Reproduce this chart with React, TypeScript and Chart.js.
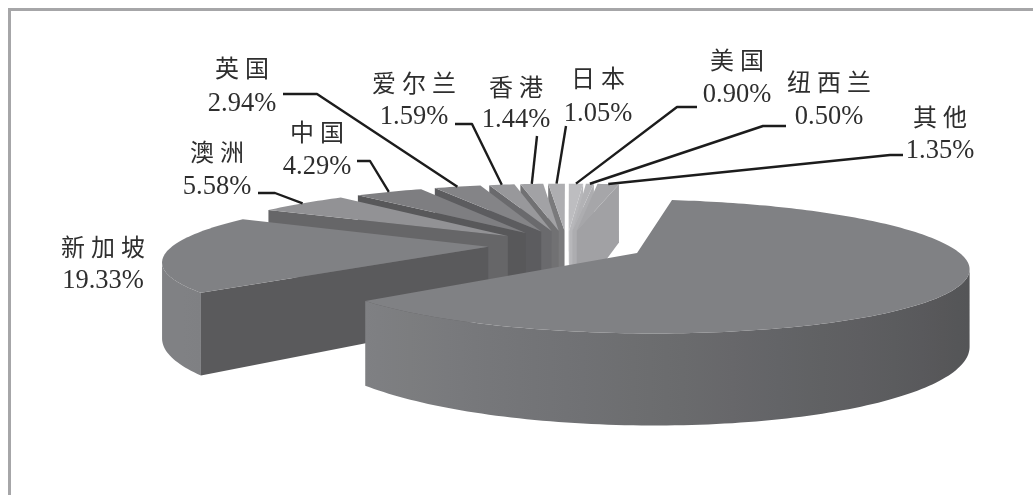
import React, { useEffect, useRef } from "react";
import { Chart, PieController, ArcElement } from "chart.js";

// ---- data ----
const categories = ["", "新加坡", "澳洲", "中国", "英国", "爱尔兰", "香港", "日本", "美国", "纽西兰", "其他"];
const shares = [61.03, 19.33, 5.58, 4.29, 2.94, 1.59, 1.44, 1.05, 0.9, 0.5, 1.35];
const percentLabels = ["", "19.33%", "5.58%", "4.29%", "2.94%", "1.59%", "1.44%", "1.05%", "0.90%", "0.50%", "1.35%"];
const topColors = ["#808184", "#808184", "#929295", "#7e7e81", "#848487", "#98989b", "#a2a2a5", "#aeaeb1", "#bdbdc0", "#b2b2b5", "#a6a6a9"];

// ---- label layout: [centre x, name y, percent y] and leader start/elbow ----
const labelPlaces: (number[] | null)[] = [
  null, [103, 247, 281], [217, 152, 187], [317, 132, 167], [242, 68, 104], [414, 83, 117],
  [516, 87, 120], [598, 78, 114], [737, 60, 95], [829, 82, 117], [940, 117, 151],
];
const leaderStarts: (number[] | null)[] = [
  null, null, [258, 193, 275, 193], [357, 161, 370, 161], [283, 94, 317, 94], [455, 124, 472, 124],
  [537, 136], [566, 126], [697, 107, 677, 107], [786, 126, 763, 126], [903, 155, 890, 155],
];

// ---- 3D view of the pie plane ----
const VIEW = { cx: 567, f: 315, p: 0.194, horizon: -70.7, h: 316, depth: 72, explode: 0.25 };

const project = (U: number, V: number, drop = 0) => {
  const w = 1 - VIEW.p * V;
  return { x: VIEW.cx + (VIEW.f * U) / w, y: VIEW.horizon + (VIEW.h + drop * VIEW.depth) / w };
};

const shade = (hex: string, f: number) => {
  const n = parseInt(hex.slice(1), 16);
  const c = (v: number) => Math.round(Math.min(255, v * f));
  return `rgb(${c((n >> 16) & 255)},${c((n >> 8) & 255)},${c(n & 255)})`;
};

type Pt = { x: number; y: number };

class Pie3DController extends PieController {
  static id = "pie3d";

  // The library still lays out the arcs; only their painting is projected.
  draw() {
    const ctx: CanvasRenderingContext2D = this.chart.ctx;
    const arcs: any[] = this._cachedMeta.data as any[];
    const slices = arcs.map((arc, i) => {
      const mid = (arc.startAngle + arc.endAngle) / 2;
      const ox = Math.cos(mid) * VIEW.explode;
      const oy = Math.sin(mid) * VIEW.explode;
      return { arc, i, ox, oy, start: arc.startAngle, end: arc.endAngle };
    });
    slices.sort((a, b) => a.oy - b.oy);

    const quad = (a: Pt, b: Pt, c: Pt, d: Pt, color: string) => {
      ctx.fillStyle = color;
      ctx.beginPath();
      ctx.moveTo(a.x, a.y);
      ctx.lineTo(b.x, b.y);
      ctx.lineTo(c.x, c.y);
      ctx.lineTo(d.x, d.y);
      ctx.closePath();
      ctx.fill();
    };

    for (const s of slices) {
      const color: string = s.arc.options.backgroundColor;
      const steps = Math.max(2, Math.ceil((s.end - s.start) / (Math.PI / 150)));
      const rim: { u: number; v: number }[] = [];
      for (let k = 0; k <= steps; k++) {
        const a = s.start + ((s.end - s.start) * k) / steps;
        rim.push({ u: Math.cos(a), v: Math.sin(a) });
      }
      const at = (u: number, v: number, drop = 0) => project(s.ox + u, s.oy + v, drop);
      const apex = at(0, 0);
      const apexLow = at(0, 0, 1);

      // radial wall on the start side
      const t0 = at(rim[0].u, rim[0].v);
      if (t0.x < apex.x) quad(apex, t0, at(rim[0].u, rim[0].v, 1), apexLow, shade(color, 0.7));
      // radial wall on the end side
      const last = rim[rim.length - 1];
      const t1 = at(last.u, last.v);
      if (apex.x < t1.x) quad(t1, apex, apexLow, at(last.u, last.v, 1), shade(color, 0.97));

      // outer wall: the part of the rim that faces the viewer, one horizontal gradient
      const run = rim.filter((r, k) => {
        const p = at(r.u, r.v);
        const prev = k > 0 ? at(rim[k - 1].u, rim[k - 1].v) : null;
        const next = k < steps ? at(rim[k + 1].u, rim[k + 1].v) : null;
        return (next && next.x < p.x) || (prev && p.x < prev.x);
      });
      if (run.length > 1) {
        const xs = run.map((r) => at(r.u, r.v).x);
        const maxX = Math.max(...xs);
        const minX = Math.min(...xs);
        const grad = ctx.createLinearGradient(minX, 0, maxX, 0);
        run.forEach((r, k) => {
          if (k % 6 !== 0 && k !== run.length - 1) return;
          const f = Math.max(0.66, Math.min(1, 0.84 - 0.2 * r.u));
          grad.addColorStop(Math.min(1, Math.max(0, (xs[k] - minX) / (maxX - minX || 1))), shade(color, f));
        });
        ctx.fillStyle = grad;
        ctx.beginPath();
        run.forEach((r, k) => {
          const p = at(r.u, r.v);
          if (k === 0) ctx.moveTo(p.x, p.y);
          else ctx.lineTo(p.x, p.y);
        });
        for (let k = run.length - 1; k >= 0; k--) {
          const p = at(run[k].u, run[k].v, 1);
          ctx.lineTo(p.x, p.y);
        }
        ctx.closePath();
        ctx.fill();
      }

      // top face
      ctx.fillStyle = color;
      ctx.beginPath();
      ctx.moveTo(apex.x, apex.y);
      for (const r of rim) {
        const p = at(r.u, r.v);
        ctx.lineTo(p.x, p.y);
      }
      ctx.closePath();
      ctx.fill();
    }
  }
}

Chart.register(Pie3DController, ArcElement);

const serif = '"Liberation Serif", serif';
const cjk = '"Noto Sans CJK SC", sans-serif';

const labelsPlugin = {
  id: "sliceLabels",
  beforeDraw(chart: any) {
    const { ctx, width, height } = chart;
    ctx.save();
    ctx.fillStyle = "#ffffff";
    ctx.fillRect(0, 0, width, height);
    ctx.strokeStyle = "#a6a6a8";
    ctx.lineWidth = 3;
    ctx.beginPath();
    ctx.moveTo(9.5, height);
    ctx.lineTo(9.5, 9.5);
    ctx.lineTo(width, 9.5);
    ctx.stroke();
    ctx.restore();
  },
  afterDraw(chart: any) {
    const { ctx } = chart;
    const arcs = chart.getDatasetMeta(0).data;
    ctx.save();
    ctx.strokeStyle = "#1c1c1c";
    ctx.lineWidth = 2.4;
    ctx.lineJoin = "round";
    leaderStarts.forEach((lead, i) => {
      if (!lead) return;
      const mid = (arcs[i].startAngle + arcs[i].endAngle) / 2;
      const tip = project(Math.cos(mid) * (1 + VIEW.explode), Math.sin(mid) * (1 + VIEW.explode));
      ctx.beginPath();
      ctx.moveTo(lead[0], lead[1]);
      if (lead.length > 2) ctx.lineTo(lead[2], lead[3]);
      ctx.lineTo(tip.x, tip.y);
      ctx.stroke();
    });
    ctx.textAlign = "center";
    ctx.textBaseline = "middle";
    ctx.fillStyle = "#2e2e2e";
    labelPlaces.forEach((place, i) => {
      if (!place) return;
      ctx.font = `24px ${cjk}`;
      (ctx as any).letterSpacing = "6px";
      ctx.fillText(categories[i], place[0] + 3, place[1]);
      ctx.font = `26.5px ${serif}`;
      (ctx as any).letterSpacing = "0px";
      ctx.fillText(percentLabels[i], place[0], place[2]);
    });
    ctx.restore();
  },
};

export default function App() {
  const ref = useRef<HTMLCanvasElement>(null);
  useEffect(() => {
    const tailShare = shares.slice(8).reduce((a, b) => a + b, 0);
    const chart = new Chart(ref.current!, {
      type: "pie3d" as any,
      data: {
        labels: categories,
        datasets: [{ data: shares, backgroundColor: topColors, borderWidth: 0 }],
      },
      options: {
        responsive: false,
        animation: false,
        rotation: (tailShare / 100) * 360,
        events: [],
        plugins: { legend: { display: false }, tooltip: { enabled: false } },
      } as any,
      plugins: [labelsPlugin],
    });
    return () => chart.destroy();
  }, []);
  return (
    <canvas
      ref={ref}
      width={1033}
      height={495}
      style={{ position: "absolute", left: 0, top: 0, width: 1033, height: 495, display: "block" }}
    />
  );
}
